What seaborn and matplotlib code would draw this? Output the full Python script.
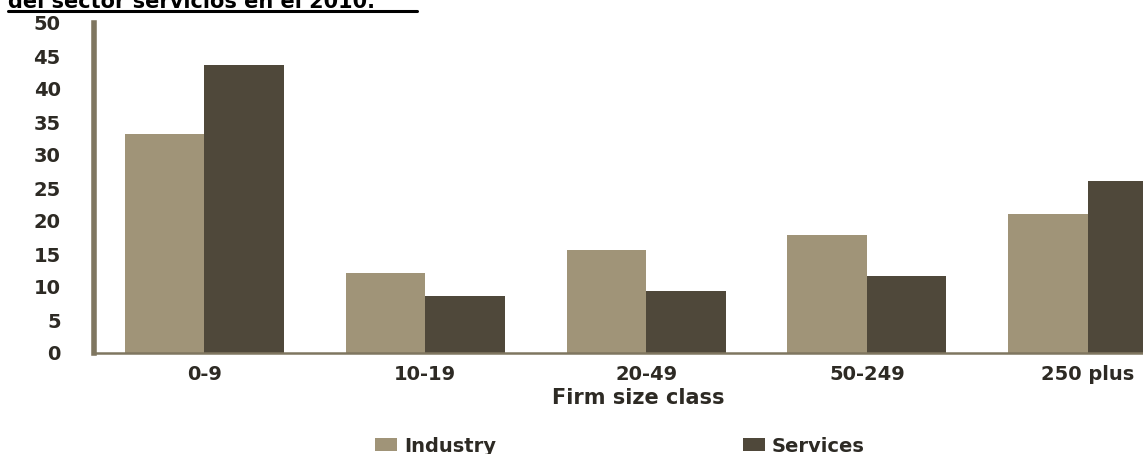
import matplotlib
matplotlib.use("Agg")
import matplotlib.pyplot as plt
from matplotlib.lines import Line2D
import pandas as pd
import seaborn as sns

# Share of firms by size class, industry vs services (%)
size_classes = ["0-9", "10-19", "20-49", "50-249", "250 plus"]
industry = [33.2, 12.1, 15.6, 17.9, 21.0]
services = [43.6, 8.6, 9.4, 11.7, 26.1]
sectors = ["Industry", "Services"]
y_ticks = [0, 5, 10, 15, 20, 25, 30, 35, 40, 45, 50]
title_text = "del sector servicios en el 2010."
x_label = "Firm size class"

colors = ["#a09478", "#4f483a"]
spine_color = "#7f7660"
text_color = "#2d2a24"

df = pd.DataFrame({
    "size": size_classes * 2,
    "value": industry + services,
    "sector": [sectors[0]] * len(size_classes) + [sectors[1]] * len(size_classes),
})

sns.set_theme(style="white")
plt.rcParams["font.family"] = ["DejaVu Sans"]

W, H = 1143, 454
fig = plt.figure(figsize=(W / 100, H / 100), dpi=100)
ax = fig.add_axes([94 / W, (H - 353) / H, (W - 94) / W, 330 / H])

sns.barplot(data=df, x="size", y="value", hue="sector", order=size_classes,
            hue_order=sectors, palette=colors, saturation=1, width=0.72,
            edgecolor="none", ax=ax)

ax.set_xlim(-0.5, 4.25)
ax.set_ylim(0, 50)
ax.set_yticks(y_ticks)
ax.set_yticklabels([str(t) for t in y_ticks], fontsize=14, fontweight="bold",
                   color=text_color)
ax.set_xticks(range(len(size_classes)))
ax.set_xticklabels(size_classes, fontsize=14, fontweight="bold", color=text_color)
ax.tick_params(axis="y", length=0, pad=24)
ax.tick_params(axis="x", length=0, pad=9)

for side in ["top", "right"]:
    ax.spines[side].set_visible(False)
ax.spines["left"].set_color(spine_color)
ax.spines["left"].set_linewidth(4.0)
ax.spines["bottom"].set_color(spine_color)
ax.spines["bottom"].set_linewidth(1.8)

ax.set_ylabel("")
ax.set_xlabel(x_label, fontsize=15, fontweight="bold", color=text_color)
ax.xaxis.set_label_coords((638 - 94) / (W - 94), -45 / 330)
ax.xaxis.label.set_va("center")

handles, labels = ax.get_legend_handles_labels()
ax.get_legend().remove()
fig.legend(handles, labels, loc="center left",
           bbox_to_anchor=(375 / W, 1 - 446 / H), ncol=2, frameon=False,
           prop={"size": 14, "weight": "bold"}, labelcolor=text_color,
           handlelength=1.13, handleheight=0.62, handletextpad=0.36,
           columnspacing=12.7, borderpad=0, borderaxespad=0)

# Cropped, underlined heading
fig.text(8 / W, 1 - 8 / H, title_text, ha="left", va="baseline",
         fontsize=15, fontweight="bold", color="black")
fig.add_artist(Line2D([8 / W, 417 / W], [1 - 11 / H, 1 - 11 / H],
                      transform=fig.transFigure, color="black", linewidth=2.2))

fig.savefig("out.png", dpi=100)
